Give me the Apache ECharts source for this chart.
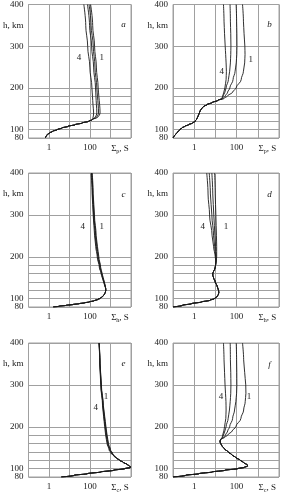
<!DOCTYPE html>
<html>
<head>
<meta charset="utf-8">
<script src="https://cdn.jsdelivr.net/npm/echarts@6/dist/echarts.min.js"></script>
<style>
  html, body { margin: 0; padding: 0; background: #fff; }
  #main { width: 282px; height: 495px; }
</style>
</head>
<body>
<div id="main"></div>
<script>
// height (km) and conductance (S)
// lower part is shared by the four curves, upper part is per curve

// a: Sigma_p
const aLowH = [80, 84, 88, 92, 96, 100, 104, 108, 112, 116, 120, 124];
const aLow = [0.65, 0.72, 0.82, 1.05, 1.5, 2.5, 4.3, 8.5, 19, 42, 85, 130];
const aUpH = [130, 135, 140, 150, 160, 180, 200, 250, 300, 350, 400];
const a1 = [240, 290, 310, 305, 295, 270, 250, 205, 167, 135, 107];
const a2 = [210, 245, 260, 258, 250, 232, 215, 175, 144, 113, 90];
const a3 = [180, 205, 215, 212, 205, 195, 186, 150, 120, 95, 75];
const a4 = [142, 148, 150, 146, 140, 132, 124, 98, 77, 62, 50];

// b: Sigma_p
const bLowH = [80, 84, 88, 92, 96, 100, 104, 108, 112, 116, 120, 125, 130, 135, 140, 145, 150, 155, 160, 165, 170];
const bLow = [0.1, 0.11, 0.13, 0.15, 0.18, 0.21, 0.26, 0.36, 0.55, 0.85, 1.1, 1.3, 1.45, 1.6, 1.75, 1.9, 2.2, 2.7, 4.0, 7, 13];
const bUpH = [175, 180, 190, 200, 220, 240, 260, 280, 300, 330, 360, 400];
const b1 = [26, 36, 65, 95, 165, 210, 240, 250, 245, 225, 210, 190];
const b2 = [23, 29, 38, 48, 68, 85, 96, 102, 104, 103, 100, 95];
const b3 = [21, 23, 28, 32, 41, 47, 51, 53, 54, 53, 51, 49];
const b4 = [20, 22, 25, 28, 32, 33, 32, 30.5, 29, 27, 25.5, 24];

// c: Sigma_h
const cLowH = [80, 82, 84, 86, 88, 90, 92, 95, 98, 101, 105, 110, 115, 120, 125];
const cLow = [1.6, 3.2, 7, 15, 30, 55, 90, 160, 240, 320, 410, 500, 560, 590, 580];
const cUpH = [130, 140, 150, 160, 175, 200, 225, 250, 300, 350, 400];
const c1 = [560, 500, 440, 390, 330, 270, 230, 200, 165, 143, 128];
const c2 = [550, 487, 425, 375, 315, 255, 217, 189, 157, 137, 123];
const c3 = [540, 473, 410, 360, 300, 240, 203, 178, 150, 132, 118];
const c4 = [530, 460, 395, 345, 285, 225, 190, 168, 143, 127, 113];

// d: Sigma_h
const dLowH = [80, 84, 88, 92, 96, 100, 105, 110, 115, 120, 125, 130, 140, 150, 155, 160, 165, 170, 175, 180, 185];
const dLow = [0.1, 0.28, 0.75, 2.2, 5.5, 9, 12, 13.8, 14.5, 14, 13, 12, 9.8, 8.2, 7.6, 7.5, 8.2, 9.2, 9.8, 10.2, 10.5];
const dUpH = [190, 200, 225, 250, 300, 350, 400];
const d1 = [11, 11.5, 11.5, 11.2, 10.5, 9.8, 9.2];
const d2 = [10.8, 10.9, 10.2, 9.5, 8.4, 7.5, 6.8];
const d3 = [10.6, 10.3, 9.2, 8.2, 6.8, 5.8, 5.1];
const d4 = [10.4, 9.8, 8.2, 7, 5.3, 4.5, 3.9];

// e: Sigma_c
const eLowH = [80, 84, 88, 92, 96, 100, 103, 106, 110, 115, 120, 125, 130];
const eLow = [4, 17, 75, 330, 1400, 5000, 9800, 8500, 6500, 4200, 2800, 2000, 1500];
const eUpH = [137, 145, 160, 180, 200, 225, 250, 300, 350, 400];
const e1 = [1250, 1000, 800, 680, 600, 520, 450, 360, 310, 280];
const e2 = [1180, 950, 760, 650, 575, 500, 437, 352, 307, 279];
const e3 = [1110, 900, 720, 615, 548, 480, 423, 344, 303, 277];
const e4 = [1050, 850, 680, 580, 520, 460, 410, 335, 300, 275];

// f: Sigma_c
const fLowH = [80, 84, 88, 92, 96, 100, 103, 106, 109, 114, 120, 126, 133, 140, 147, 155, 162, 166, 170];
const fLow = [0.1, 0.4, 1.7, 7, 28, 112, 230, 330, 320, 220, 150, 95, 60, 40, 27, 20, 17, 16.5, 18];
const fUpH = [175, 180, 190, 200, 220, 240, 260, 280, 300, 330, 360, 400];
const f1 = [28, 38, 62, 92, 160, 215, 255, 275, 270, 240, 215, 190];
const f2 = [25, 30, 38, 47, 65, 80, 92, 100, 103, 102, 100, 96];
const f3 = [22, 24, 28, 32, 40, 46, 50, 53, 54, 53, 51, 50];
const f4 = [21, 22, 25, 27, 31, 32, 31.5, 30, 28.5, 27, 25.5, 24];

const tags = ['a', 'b', 'c', 'd', 'e', 'f'];
const subs = ['p', 'p', 'h', 'h', 'c', 'c'];
const yLabels = [80, 100, 200, 300, 400];
const yGrid = [80, 100, 120, 140, 160, 180, 200, 300, 400];
const yNameAt = 350;

const panels = [
  [aLowH, aLow, aUpH, [a1, a2, a3, a4]],
  [bLowH, bLow, bUpH, [b1, b2, b3, b4]],
  [cLowH, cLow, cUpH, [c1, c2, c3, c4]],
  [dLowH, dLow, dUpH, [d1, d2, d3, d4]],
  [eLowH, eLow, eUpH, [e1, e2, e3, e4]],
  [fLowH, fLow, fUpH, [f1, f2, f3, f4]]
];

// layout
const colX = [26, 173], colW = [105, 106];
const rowY = [4, 173, 343], plotH = 134;
const font = '"Liberation Serif", "DejaVu Serif", serif';
const ink = '#1a1a1a', gridColor = '#a0a0a0';

// split line colours for y ticks every 10 km from 80 to 400
const ySplitColors = [];
for (let v = 80; v <= 400; v += 10) {
  ySplitColors.push(yGrid.indexOf(v) >= 0 ? gridColor : 'rgba(0,0,0,0)');
}

const grids = [], xAxes = [], yAxes = [], series = [];

panels.forEach((p, i) => {
  const col = i % 2, row = Math.floor(i / 2);
  grids.push({
    left: colX[col], top: rowY[row], width: colW[col], height: plotH,
    show: true, borderColor: gridColor, borderWidth: 1
  });
  xAxes.push({
    type: 'log', logBase: 10, min: 0.1, max: 10000, splitNumber: 5,
    gridIndex: i,
    axisLine: {show: false}, axisTick: {show: false},
    splitLine: {show: true, lineStyle: {color: gridColor, width: 1}},
    axisLabel: {
      margin: 5, color: ink, fontFamily: font, fontSize: 9,
      formatter: v => {
        const e = Math.round(Math.log10(v));
        if (e === 0) return '1';
        if (e === 2) return '100';
        if (e === 3) return '{first|Σ}{sub|' + subs[i] + '}{s|, S}';
        return '';
      },
      rich: {
        first: {fontFamily: font, fontSize: 9, color: ink, lineHeight: 11, padding: [0, 0, 0, 19]},
        s: {fontFamily: font, fontSize: 9, color: ink, lineHeight: 11},
        sub: {fontFamily: font, fontSize: 6, color: ink, verticalAlign: 'bottom', lineHeight: 7}
      }
    }
  });
  yAxes.push({
    type: 'value', min: 80, max: 400, interval: 10, gridIndex: i,
    axisLine: {show: false}, axisTick: {show: false},
    splitLine: {show: true, lineStyle: {color: ySplitColors, width: 1}},
    axisLabel: {
      margin: 5, color: ink, fontFamily: font, fontSize: 9,
      formatter: v => v === yNameAt ? 'h, km' : (yLabels.indexOf(v) >= 0 ? String(v) : '')
    }
  });
  const [lowH, low, upH, ups] = p;
  ups.forEach(up => {
    const data = [];
    lowH.forEach((h, k) => data.push([low[k], h]));
    upH.forEach((h, k) => data.push([up[k], h]));
    series.push({
      type: 'line', xAxisIndex: i, yAxisIndex: i, data: data,
      symbol: 'none', smooth: 0.35, smoothMonotone: 'y',
      lineStyle: {color: ink, width: 0.9}, silent: true, animation: false
    });
  });
});

// curve numbers and panel letters
const notes = [
  [79, 58, '4'], [101.7, 58, '1'], [123.5, 25, 'a', true],
  [221.7, 71.7, '4'], [250.7, 59.3, '1'], [269.5, 25, 'b', true],
  [82.7, 227, '4'], [101.7, 227, '1'], [123.5, 195, 'c', true],
  [202.7, 227, '4'], [226, 227, '1'], [269.5, 195, 'd', true],
  [95.7, 408, '4'], [106, 397, '1'], [123.5, 364, 'e', true],
  [221, 397, '4'], [249, 397, '1'], [269.5, 365, 'f', true]
];
const graphic = notes.map(n => ({
  type: 'text', x: n[0], y: n[1], silent: true,
  style: {
    text: n[2], fill: ink, fontFamily: font, fontSize: 9,
    fontStyle: n[3] ? 'italic' : 'normal',
    align: 'center', verticalAlign: 'middle',
    textAlign: 'center', textVerticalAlign: 'middle'
  }
}));

const chart = echarts.init(document.getElementById('main'), null, {renderer: 'canvas'});
chart.setOption({
  animation: false,
  backgroundColor: '#fff',
  grid: grids,
  xAxis: xAxes,
  yAxis: yAxes,
  series: series,
  graphic: graphic
});
</script>
</body>
</html>
